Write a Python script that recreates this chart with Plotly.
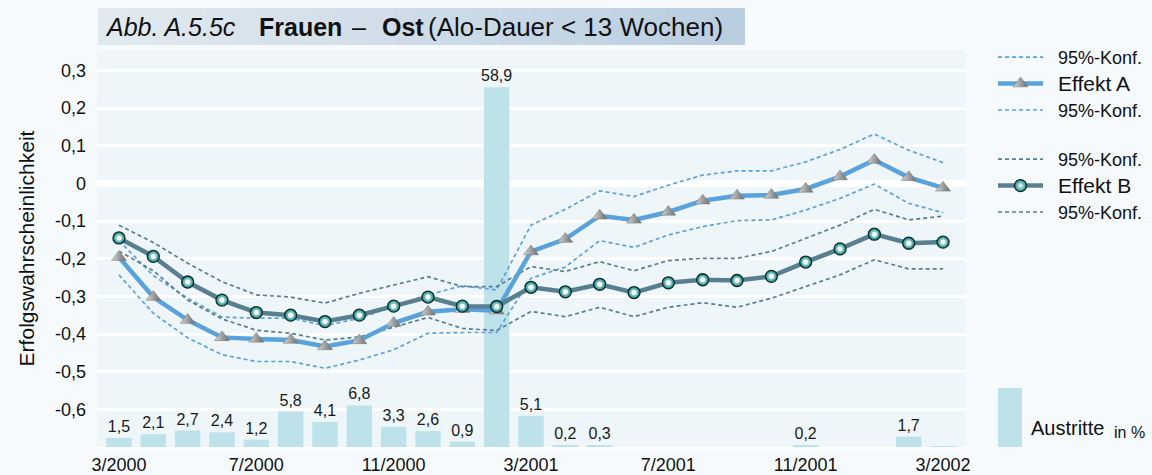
import plotly.graph_objects as go

# ---------------- data ----------------
months = ["3/2000", "4/2000", "5/2000", "6/2000", "7/2000", "8/2000", "9/2000",
          "10/2000", "11/2000", "12/2000", "1/2001", "2/2001", "3/2001", "4/2001",
          "5/2001", "6/2001", "7/2001", "8/2001", "9/2001", "10/2001", "11/2001",
          "12/2001", "1/2002", "2/2002", "3/2002"]
tick_months = ["3/2000", "7/2000", "11/2000", "3/2001", "7/2001", "11/2001", "3/2002"]

effekt_a = [-0.196, -0.302, -0.363, -0.409, -0.413, -0.416, -0.433, -0.417, -0.371,
            -0.341, -0.334, -0.338, -0.181, -0.148, -0.086, -0.097, -0.076, -0.046,
            -0.033, -0.031, -0.015, 0.018, 0.062, 0.016, -0.012]
a_upper = [-0.152, -0.245, -0.305, -0.355, -0.358, -0.358, -0.378, -0.358, -0.327,
           -0.296, -0.272, -0.283, -0.111, -0.069, -0.020, -0.035, -0.005, 0.022,
           0.033, 0.033, 0.057, 0.090, 0.131, 0.088, 0.055]
a_lower = [-0.243, -0.345, -0.410, -0.455, -0.473, -0.473, -0.491, -0.469, -0.442,
           -0.398, -0.396, -0.396, -0.252, -0.222, -0.152, -0.170, -0.137, -0.115,
           -0.099, -0.097, -0.071, -0.040, -0.002, -0.053, -0.078]

effekt_b = [-0.145, -0.194, -0.262, -0.310, -0.343, -0.350, -0.367, -0.350, -0.326,
            -0.302, -0.326, -0.327, -0.276, -0.288, -0.268, -0.290, -0.264, -0.256,
            -0.258, -0.247, -0.209, -0.174, -0.135, -0.159, -0.156]
b_upper = [-0.111, -0.157, -0.212, -0.261, -0.296, -0.302, -0.318, -0.292, -0.270,
           -0.248, -0.274, -0.274, -0.221, -0.234, -0.208, -0.232, -0.205, -0.199,
           -0.199, -0.181, -0.146, -0.111, -0.069, -0.097, -0.087]
b_lower = [-0.180, -0.232, -0.310, -0.360, -0.390, -0.398, -0.416, -0.408, -0.382,
           -0.356, -0.385, -0.391, -0.340, -0.354, -0.329, -0.354, -0.329, -0.317,
           -0.329, -0.305, -0.274, -0.243, -0.203, -0.227, -0.227]

austritte = [1.5, 2.1, 2.7, 2.4, 1.2, 5.8, 4.1, 6.8, 3.3, 2.6, 0.9, 58.9, 5.1, 0.2,
             0.3, None, None, None, None, None, 0.2, None, None, 1.7, 0.1]
austritte_unlabeled = ["3/2002"]

y_ticks = [0.3, 0.2, 0.1, 0.0, -0.1, -0.2, -0.3, -0.4, -0.5, -0.6]

# ---------------- helpers ----------------
x = list(range(len(months)))
tickvals = [months.index(m) for m in tick_months]


def de(v, nd=1):
    s = f"{v:.{nd}f}".replace(".", ",")
    return "0" if s in ("0,0", "-0,0") else s


bar_text = ["" if (v is None or m in austritte_unlabeled) else de(v)
            for v, m in zip(austritte, months)]

W, H = 1152, 475
L, R, T, B = 97, 965, 50, 447


def px(xp):
    return (xp - L) / (R - L)


def py(yp):
    return (B - yp) / (B - T)


FONT = "Arial, Liberation Sans, Helvetica, sans-serif"
COL_A = "#5aa2dc"
COL_B = "#587f8f"
COL_BAR = "#bde2ea"
DASH = "4px,3px"
PAD = "&nbsp;&nbsp;"

fig = go.Figure()

# bars on primary y (drawn below lines)
fig.add_trace(go.Bar(
    x=x, y=austritte, text=bar_text, textposition="outside", cliponaxis=False,
    constraintext="none", textfont=dict(size=16, color="#1a1a1a", family=FONT),
    marker=dict(color=COL_BAR, line=dict(width=0)), width=0.74,
    showlegend=False, yaxis="y", hoverinfo="skip"))

# confidence bands
fig.add_trace(go.Scatter(x=x, y=a_upper, mode="lines", name=PAD + "95%-Konf.",
                         line=dict(color=COL_A, width=1.7, dash=DASH),
                         yaxis="y2", legend="legend", legendrank=1))
fig.add_trace(go.Scatter(x=x, y=a_lower, mode="lines", name=PAD + "95%-Konf.",
                         line=dict(color=COL_A, width=1.7, dash=DASH),
                         yaxis="y2", legend="legend", legendrank=3))
fig.add_trace(go.Scatter(x=x, y=b_upper, mode="lines", name=PAD + "95%-Konf.",
                         line=dict(color=COL_B, width=1.7, dash=DASH),
                         yaxis="y2", legend="legend2", legendrank=1))
fig.add_trace(go.Scatter(x=x, y=b_lower, mode="lines", name=PAD + "95%-Konf.",
                         line=dict(color=COL_B, width=1.7, dash=DASH),
                         yaxis="y2", legend="legend2", legendrank=3))

# effects
fig.add_trace(go.Scatter(
    x=x, y=effekt_a, mode="lines+markers",
    name=PAD + "<span style='font-size:21px'>Effekt A</span>",
    line=dict(color=COL_A, width=4.5),
    marker=dict(symbol="triangle-up", size=13, color="#d6d6d6",
                gradient=dict(type="horizontal", color="#6b6b6b"),
                line=dict(color="#777777", width=0.5)),
    yaxis="y2", legend="legend", legendrank=2))
fig.add_trace(go.Scatter(
    x=x, y=effekt_b, mode="lines+markers",
    name=PAD + "<span style='font-size:21px'>Effekt B</span>",
    line=dict(color=COL_B, width=4.5),
    marker=dict(symbol="circle", size=12, color="#0b8a88",
                gradient=dict(type="radial", color="#ffffff"),
                line=dict(color="#0d2a2a", width=1.3)),
    yaxis="y2", legend="legend2", legendrank=2))
fig.add_trace(go.Scatter(
    x=x, y=effekt_b, mode="markers", showlegend=False, hoverinfo="skip",
    marker=dict(symbol="circle", size=5, color="#ffffff", line=dict(width=0)),
    yaxis="y2"))

# ---------------- decorations ----------------
shapes = []
# title box with horizontal gradient
n = 24
x0, x1 = 98, 745
c0 = (226, 233, 239)
c1 = (186, 206, 224)
for i in range(n):
    t = i / (n - 1)
    c = tuple(int(round(c0[k] + (c1[k] - c0[k]) * t)) for k in range(3))
    xa = x0 + (x1 - x0) * i / n
    xb = x0 + (x1 - x0) * (i + 1) / n + 0.6
    shapes.append(dict(type="rect", xref="paper", yref="paper",
                       x0=px(xa), x1=px(min(xb, x1)), y0=py(45), y1=py(8),
                       fillcolor=f"rgb{c}", line=dict(width=0), layer="above"))
# legend swatch for bars
shapes.append(dict(type="rect", xref="paper", yref="paper",
                   x0=px(998), x1=px(1022), y0=py(447), y1=py(388),
                   fillcolor=COL_BAR, line=dict(width=0)))

annotations = []
title_parts = [
    ("<i>Abb. A.5.5c</i>", 103, 25),
    ("<b>Frauen</b>", 257, 25),
    ("\u2013", 350, 25),
    ("<b>Ost</b>", 380, 25),
    ("(Alo-Dauer &lt; 13 Wochen)", 426, 26),
]
for txt, xl, fs in title_parts:
    annotations.append(dict(text=txt, x=px(xl), y=py(27), xref="paper", yref="paper",
                            xanchor="left", yanchor="middle", showarrow=False,
                            font=dict(size=fs, color="#111111", family=FONT)))
annotations.append(dict(text="Austritte", x=px(1029), y=py(428), xref="paper",
                        yref="paper", xanchor="left", yanchor="middle",
                        showarrow=False,
                        font=dict(size=20, color="#111111", family=FONT)))
annotations.append(dict(text="in %", x=px(1112), y=py(432), xref="paper",
                        yref="paper", xanchor="left", yanchor="middle",
                        showarrow=False,
                        font=dict(size=16, color="#111111", family=FONT)))

fig.update_layout(
    width=W, height=H, autosize=False,
    margin=dict(l=L, r=W - R, t=T, b=H - B, pad=0, autoexpand=False),
    paper_bgcolor="#f6fafd", plot_bgcolor="#eef6f9",
    separators=",.",
    font=dict(family=FONT, color="#111111"),
    xaxis=dict(range=[-0.64, 24.64], tickvals=tickvals, ticktext=tick_months,
               showgrid=False, zeroline=False, showline=True, linecolor="#ffffff",
               linewidth=2, ticks="", tickfont=dict(size=18, family=FONT)),
    yaxis=dict(range=[0, 65], visible=False, showgrid=False, zeroline=False),
    yaxis2=dict(range=[-0.7, 0.354], overlaying="y", side="left",
                tickvals=y_ticks, ticktext=[de(v) for v in y_ticks],
                showgrid=True, gridcolor="#ffffff", gridwidth=2.5,
                zeroline=True, zerolinecolor="#ffffff", zerolinewidth=7,
                ticks="", ticklen=0, ticklabelstandoff=10,
                tickfont=dict(size=18, family=FONT),
                title=dict(text="Erfolgswahrscheinlichkeit", standoff=14,
                           font=dict(size=21, family=FONT))),
    legend=dict(x=px(993), y=py(39), xanchor="left", yanchor="top",
                bgcolor="rgba(0,0,0,0)", font=dict(size=18, family=FONT),
                traceorder="normal", itemwidth=45),
    legend2=dict(x=px(993), y=py(141), xanchor="left", yanchor="top",
                 bgcolor="rgba(0,0,0,0)", font=dict(size=18, family=FONT),
                 traceorder="normal", itemwidth=45),
    shapes=shapes, annotations=annotations,
)

fig.write_html(
    "out.html",
    config={"displayModeBar": False},
    post_script="document.body.style.margin='0px';"
                "document.body.style.overflow='hidden';"
                "document.body.style.background='#f6fafd';",
)
